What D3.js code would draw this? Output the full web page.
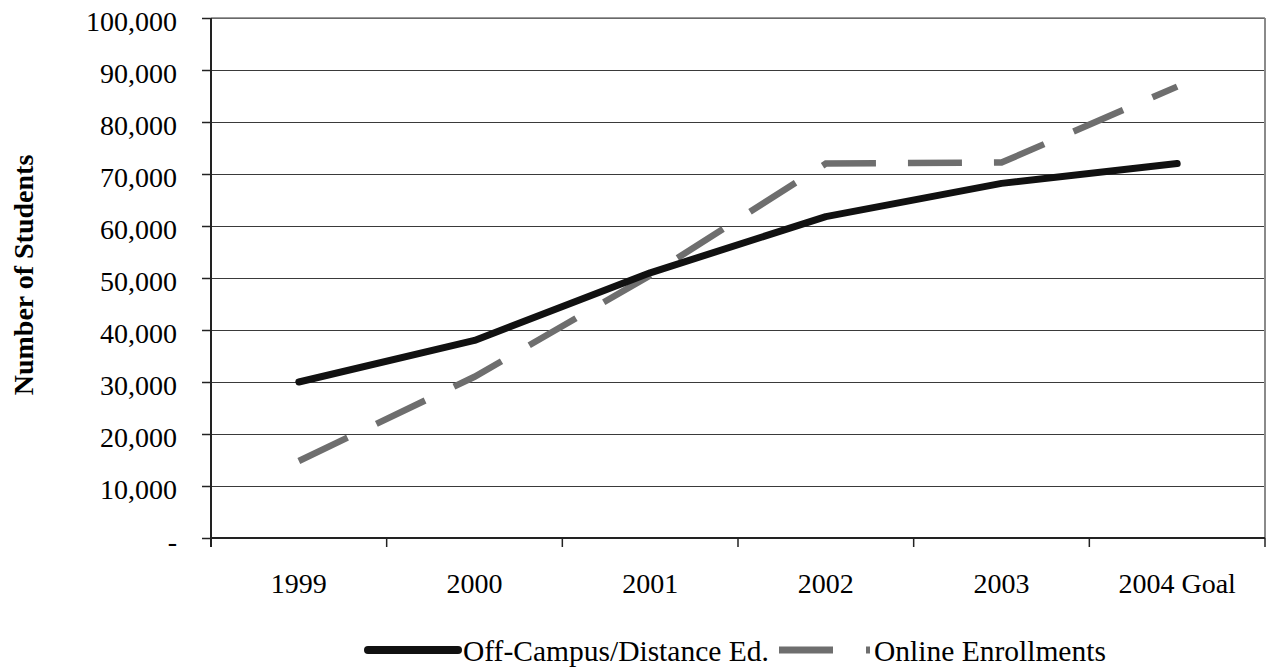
<!DOCTYPE html>
<meta charset="utf-8">
<style>
  body { margin: 0; background: #fff; }
  svg { display: block; font-family: "Liberation Serif", "Times New Roman", serif; }
  .axis .domain { display: none; }
</style>
<svg width="1267" height="671"></svg>
<script src="https://cdn.jsdelivr.net/npm/d3@7"></script>
<script>
// chart values
var categories = ["1999", "2000", "2001", "2002", "2003", "2004 Goal"];
var offCampus = [30000, 38000, 51000, 61800, 68200, 72000];
var online = [14800, 31000, 50500, 72000, 72200, 86800];
var yTicks = [0, 10000, 20000, 30000, 40000, 50000, 60000, 70000, 80000, 90000, 100000];
var seriesNames = ["Off-Campus/Distance Ed.", "Online Enrollments"];

var svg = d3.select("svg"),
    plot = {left: 211, right: 1265, top: 18, bottom: 538},
    serif = "Liberation Serif, Times New Roman, serif";

var x = d3.scaleBand().domain(categories).range([plot.left, plot.right]).padding(0);
var y = d3.scaleLinear().domain([0, 100000]).range([plot.bottom, plot.top]);

// horizontal gridlines
svg.append("g")
  .selectAll("line")
  .data(yTicks.slice(1))
  .enter().append("line")
    .attr("x1", plot.left).attr("x2", plot.right)
    .attr("y1", function(d) { return y(d); })
    .attr("y2", function(d) { return y(d); })
    .attr("stroke", "#3a3a3a")
    .attr("stroke-width", 1)
    .attr("shape-rendering", "crispEdges");

// plot area border (top + right)
svg.append("line")
  .attr("x1", plot.right).attr("x2", plot.right)
  .attr("y1", plot.top).attr("y2", plot.bottom)
  .attr("stroke", "#8a8a8a").attr("stroke-width", 2);
svg.append("line")
  .attr("x1", plot.left).attr("x2", plot.right)
  .attr("y1", plot.top).attr("y2", plot.top)
  .attr("stroke", "#7a7a7a").attr("stroke-width", 1.5);

// y axis
var yAxis = d3.axisLeft(y)
  .tickValues(yTicks)
  .tickSize(9)
  .tickPadding(25)
  .tickFormat(function(d) { return d === 0 ? "-" : d3.format(",")(d); });

var gy = svg.append("g")
  .attr("class", "axis")
  .attr("transform", "translate(" + plot.left + ",0)")
  .call(yAxis)
  .attr("font-family", serif)
  .attr("font-size", 28);
gy.selectAll(".tick line").attr("stroke", "#222").attr("stroke-width", 1.5);
gy.selectAll(".tick text")
  .attr("dy", "0.43em")
  .attr("fill", "#000");

// axis lines
svg.append("line")
  .attr("x1", plot.left).attr("x2", plot.left)
  .attr("y1", plot.top).attr("y2", plot.bottom + 9)
  .attr("stroke", "#222").attr("stroke-width", 2);
svg.append("line")
  .attr("x1", plot.left).attr("x2", plot.right)
  .attr("y1", plot.bottom).attr("y2", plot.bottom)
  .attr("stroke", "#222").attr("stroke-width", 2);

// x tick marks at category boundaries
var edges = categories.map(function(d) { return x(d); }).concat([x.range()[1]]);
svg.append("g")
  .selectAll("line")
  .data(edges)
  .enter().append("line")
    .attr("x1", function(d) { return d; })
    .attr("x2", function(d) { return d; })
    .attr("y1", plot.bottom)
    .attr("y2", plot.bottom + 9)
    .attr("stroke", "#222")
    .attr("stroke-width", 1.5);

// x labels
var xAxis = d3.axisBottom(x).tickSize(0).tickPadding(0);
var gx = svg.append("g")
  .attr("class", "axis")
  .attr("transform", "translate(0," + plot.bottom + ")")
  .call(xAxis)
  .attr("font-family", serif)
  .attr("font-size", 28);
gx.selectAll(".tick text")
  .attr("y", 55)
  .attr("dy", null)
  .attr("fill", "#000");

// y title
svg.append("text")
  .attr("transform", "translate(33,275) rotate(-90)")
  .attr("text-anchor", "middle")
  .style("font-size", "28px")
  .style("font-weight", "bold")
  .text("Number of Students");

// lines
var line = d3.line()
  .x(function(d, i) { return x(categories[i]) + x.bandwidth() / 2; })
  .y(function(d) { return y(d); });

svg.append("path")
  .datum(online)
  .attr("d", line)
  .attr("fill", "none")
  .attr("stroke", "#6e6e6e")
  .attr("stroke-width", 6.5)
  .attr("stroke-dasharray", "54,32")
  .attr("stroke-linejoin", "miter");

svg.append("path")
  .datum(offCampus)
  .attr("d", line)
  .attr("fill", "none")
  .attr("stroke", "#111")
  .attr("stroke-width", 7)
  .attr("stroke-linecap", "round")
  .attr("stroke-linejoin", "round");

// legend
var legend = svg.append("g");
legend.append("line")
  .attr("x1", 368).attr("x2", 458).attr("y1", 650).attr("y2", 650)
  .attr("stroke", "#111").attr("stroke-width", 8).attr("stroke-linecap", "round");
legend.append("text")
  .attr("x", 463).attr("y", 661)
  .style("font-size", "29.5px")
  .text(seriesNames[0]);
legend.append("line")
  .attr("x1", 779).attr("x2", 870).attr("y1", 650).attr("y2", 650)
  .attr("stroke", "#6e6e6e").attr("stroke-width", 7).attr("stroke-dasharray", "54,33");
legend.append("text")
  .attr("x", 874).attr("y", 661)
  .style("font-size", "29.5px")
  .text(seriesNames[1]);
</script>
